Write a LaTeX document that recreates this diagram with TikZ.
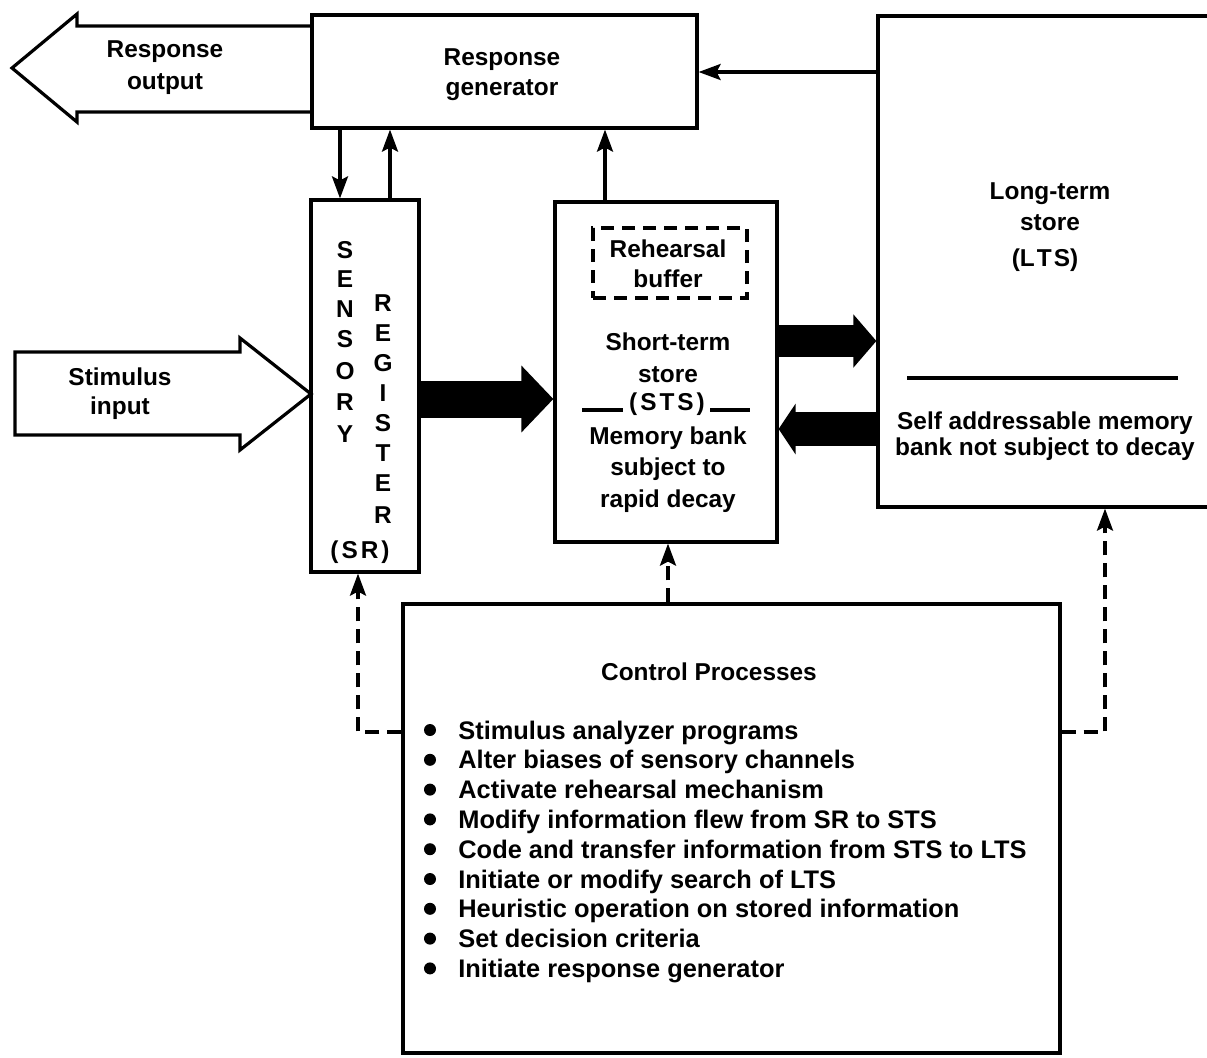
\documentclass[tikz,border=0pt]{standalone}
\usepackage{fontspec}
\setmainfont{Liberation Sans}
\usetikzlibrary{arrows.meta,calc}
\begin{document}
\begin{tikzpicture}[x=0.5pt,y=-0.5pt,
  box/.style={draw, line width=1.6pt, inner sep=0pt, rectangle},
  txt/.style={font=\bfseries\fontsize{12.2}{14}\selectfont, inner sep=0pt, anchor=base},
  btxt/.style={txt, font=\bfseries\fontsize{12.7}{14}\selectfont, anchor=base west},
  arr/.style={line width=1.6pt, -{Stealth[length=11pt,width=8pt,inset=2pt]}},
  darr/.style={arr, dash pattern=on 7pt off 4pt},
  hollow/.style={draw, line width=1.6pt, line join=miter, fill=white}
]
\useasboundingbox (0,0) rectangle (1207,1057);

% hollow arrows
\draw[hollow] (312,26) -- (77,26) -- (77,14) -- (12,68) -- (77,122) -- (77,112) -- (312,112);
\node[txt] (ro1) at (165,57) {Response};
\node[txt] (ro2) at (165,89) {output};

\draw[hollow] (15,352) -- (240,352) -- (240,338) -- (311,394) -- (240,450) -- (240,435) -- (15,435) -- cycle;
\node[txt] (si1) at (120,385) {Stimulus};
\node[txt] (si2) at (120,414) {input};

% boxes
\node[box, minimum width=192.5pt, minimum height=56.5pt] (rg) at (504.5,71.5) {};
\node[txt] (rg1) at (502,65) {Response};
\node[txt] (rg2) at (502,95) {generator};

\node[box, minimum width=54pt, minimum height=186pt] (sr) at (365,386) {};
\foreach \l/\yy [count=\i] in {S/250,E/279,N/309,S/339,O/371,R/402,Y/434}
  \node[txt] (sen\i) at (345,\yy+8.5) {\l};
\foreach \l/\yy [count=\i] in {R/303,E/333,G/363,I/393,S/423,T/453,E/483,R/515}
  \node[txt] (reg\i) at (383,\yy+8.5) {\l};
\node[txt] (srl) at (360,558) {(\kern1.5pt S\kern1.5pt R\kern1.5pt)};

\node[box, minimum width=111pt, minimum height=170pt] (sts) at (666,372) {};
\node[box, dash pattern=on 6.5pt off 4pt, minimum width=77pt, minimum height=35pt] (rb) at (670,263) {};
\node[txt] (rb1) at (668,257) {Rehearsal};
\node[txt] (rb2) at (668,287) {buffer};
\node[txt] (st1) at (668,350) {Short-term};
\node[txt] (st2) at (668,382) {store};
\node[txt] (st3) at (667,410) {(\kern1.5pt S\kern1.5pt T\kern1.5pt S\kern1.5pt)};
\draw[line width=1.6pt] (582,410) -- (623,410);
\draw[line width=1.6pt] (710,410) -- (750,410);
\node[txt] (st4) at (668,444) {Memory bank};
\node[txt] (st5) at (668,475) {subject to};
\node[txt] (st6) at (668,507) {rapid decay};

\node[box, minimum width=168.5pt, minimum height=245.5pt] (lts) at (1046.5,261.5) {};
\node[txt] (lt1) at (1050,199) {Long-term};
\node[txt] (lt2) at (1050,230) {store};
\node[txt] (lt3) at (1045,266) {(L\kern1pt T\kern1pt S)};
\draw[line width=1.6pt] (907,378) -- (1178,378);
\node[txt] (lt4) at (1045,429) {Self addressable memory};
\node[txt] (lt5) at (1045,455) {bank not subject to decay};

\node[box, minimum width=328.5pt, minimum height=224.5pt] (cp) at (731.5,828.5) {};
\node[txt] (cpt) at (709,680) {Control Processes};
\foreach \t [count=\i] in {Stimulus analyzer programs, Alter biases of sensory channels,
  Activate rehearsal mechanism, Modify information flew from SR to STS,
  Code and transfer information from STS to LTS, Initiate or modify search of LTS,
  Heuristic operation on stored information, Set decision criteria,
  Initiate response generator}
{
  \fill (430,{732+29.8*(\i-1)-2}) circle (3pt);
  \node[btxt] (b\i) at (458,{732+29.8*(\i-1)+7}) {\t};
}

% connectors
\coordinate (xa) at (340,0);
\coordinate (xb) at (390,0);
\coordinate (xc) at (605,0);
\coordinate (yl) at (0,72);
\draw[arr] (rg.south -| xa) -- (sr.north -| xa);
\draw[arr] (sr.north -| xb) -- (rg.south -| xb);
\draw[arr] (sts.north -| xc) -- (rg.south -| xc);
\draw[arr] (lts.west |- yl) -- (rg.east |- yl);

% fat arrows
\coordinate (y1) at (0,399);
\coordinate (y2) at (0,341);
\coordinate (y3) at (0,429);
\draw[line width=18.5pt, -{Triangle[length=16pt,width=32.5pt]}] (sr.east |- y1) -- (sts.west |- y1);
\draw[line width=16pt, -{Triangle[length=11.5pt,width=26pt]}] (sts.east |- y2) -- (lts.west |- y2);
\draw[line width=17pt, -{Triangle[length=8.5pt,width=25pt]}] (lts.west |- y3) -- (sts.east |- y3);

% dashed control links
\coordinate (yd) at (0,732);
\coordinate (xl) at (358,0);
\coordinate (xm) at (668,0);
\coordinate (xr) at (1105,0);
\draw[darr] (cp.west |- yd) -| (sr.south -| xl);
\draw[darr] (cp.north -| xm) -- (sts.south -| xm);
\draw[darr] (cp.east |- yd) -| (lts.south -| xr);
\end{tikzpicture}
\end{document}
